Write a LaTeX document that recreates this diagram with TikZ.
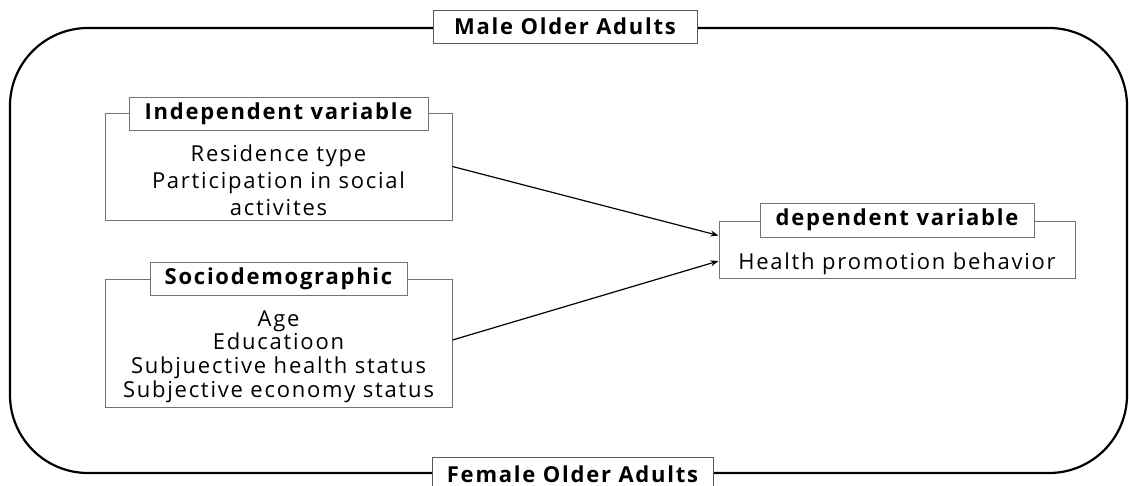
\documentclass[tikz,border=0pt]{standalone}
\usepackage{fontspec}
\setmainfont{Open Sans}[LetterSpace=8]
\usetikzlibrary{arrows.meta}
\begin{document}
\begin{tikzpicture}[x=1pt,y=-1pt,
  labelbox/.style={draw=black!65, line width=1pt, fill=white, minimum height=33pt, inner sep=0pt, font=\bfseries\fontsize{22}{24}\selectfont},
  groupbox/.style={draw=black!55, line width=1pt, inner sep=0pt},
  titlebox/.style={draw=black!55, line width=1pt, fill=white, minimum height=33pt, inner sep=0pt, font=\bfseries\fontsize{22}{24}\selectfont},
  bodytext/.style={align=center, inner sep=0pt, font=\fontsize{22}{27}\selectfont},
  arrow/.style={-{Stealth[length=8pt,width=6pt]}, line width=1.2pt}
]
\useasboundingbox (0,0) rectangle (1129,485);
\clip (0,0) rectangle (1129,485);
% outer frame
\draw[line width=2.2pt, rounded corners=78pt] (10,28) rectangle (1127,473);
\node[labelbox, minimum width=264pt] (male) at (565,26.5) {Male Older Adults};
\node[labelbox, minimum width=281pt] (female) at (572.5,474) {Female Older Adults};
% independent
\node[groupbox, minimum width=347pt, minimum height=107pt] (indbox) at (278.5,166.5) {};
\node[titlebox, minimum width=299pt] (indtitle) at (278.5,113.5) {Independent variable};
\node[bodytext] (indtext) at (278.5,180) {Residence type\\Participation in social\\activites};
% sociodemographic
\node[groupbox, minimum width=347pt, minimum height=128pt] (socbox) at (278.5,343) {};
\node[titlebox, minimum width=257pt] (soctitle) at (278.5,278.5) {Sociodemographic};
\node[bodytext, font=\fontsize{22}{23.7}\selectfont] (soctext) at (278.5,356.5) {Age\\Educatioon\\Subjuective health status\\Subjective economy status};
% dependent
\node[groupbox, minimum width=356pt, minimum height=57pt] (depbox) at (897,249.5) {};
\node[titlebox, minimum width=274pt, minimum height=34pt] (deptitle) at (897,220) {dependent variable};
\node[bodytext] (deptext) at (897,264) {Health promotion behavior};
% arrows
\draw[arrow] (indbox.east) -- ([yshift=14pt]depbox.west);
\draw[arrow] ([yshift=3pt]socbox.east) -- ([yshift=-11.5pt]depbox.west);
\end{tikzpicture}
\end{document}
